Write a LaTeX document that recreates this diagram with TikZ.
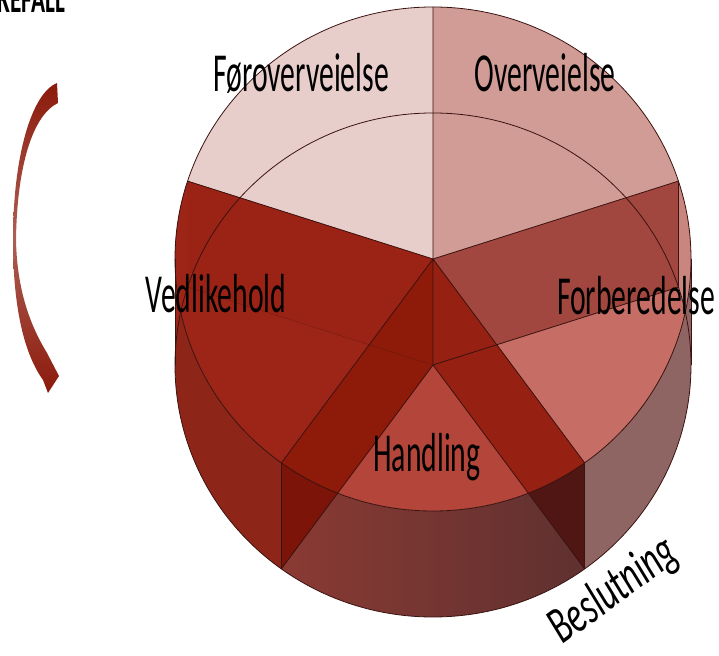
\documentclass[tikz,border=0pt]{standalone}
\usepackage{fontspec}
\usepackage{graphicx}
\setmainfont{Carlito}
\definecolor{cFor}{HTML}{E8CECB}
\definecolor{cOve}{HTML}{D19C96}
\definecolor{cFb}{HTML}{C66E65}
\definecolor{cVed}{HTML}{9D2517}
\definecolor{cHa}{HTML}{B4453A}
\definecolor{cQa}{HTML}{A2473F}
\definecolor{cQb}{HTML}{9B2315}
\definecolor{cBL}{HTML}{8E1A0A}
\definecolor{cBLo}{HTML}{7C1409}
\definecolor{cBR}{HTML}{962011}
\definecolor{cBRo}{HTML}{4F1614}
\definecolor{cWallV}{HTML}{8D2619}
\definecolor{cWallHl}{HTML}{8A3A33}
\definecolor{cWallHr}{HTML}{5F3130}
\definecolor{cWallF}{HTML}{8E6562}
\definecolor{cStrip}{HTML}{C8867F}
\definecolor{cEdge}{HTML}{3A1210}
\definecolor{cArrow}{HTML}{8B1A0B}
\begin{document}
\begin{tikzpicture}[x=1pt,y=1pt,
  rim/.style={x radius=258,y radius=252},
  edge/.style={draw=cEdge,line width=0.8pt,line join=round},
  faint/.style={draw=cEdge,line width=0.5pt,opacity=0.35},
  lbl/.style={inner sep=0pt,anchor=base,text=black},
  lblfont/.style={font=\fontsize{55}{66}\selectfont}]
\useasboundingbox (0,0) rectangle (719,655);
\coordinate (Tc) at (433,396);
\coordinate (Bc) at (433,290);
\foreach \a in {0,18,90,162,180,234,306,360} {
  \coordinate (T\a) at ({433+258*cos(\a)},{396+252*sin(\a)});
  \coordinate (B\a) at ({433+258*cos(\a)},{290+252*sin(\a)});
}
% front walls
\fill[cWallV] (T180) arc[start angle=180,end angle=234,rim] -- (B234) arc[start angle=234,end angle=180,rim] -- cycle;
\shade[left color=cWallHl,right color=cWallHr] (T234) arc[start angle=234,end angle=306,rim] -- (B306) arc[start angle=306,end angle=234,rim] -- cycle;
% top sectors
\fill[cFor] (Tc) -- (T90) arc[start angle=90,end angle=162,rim] -- cycle;
\fill[cOve] (Tc) -- (T18) arc[start angle=18,end angle=90,rim] -- cycle;
\fill[cFb] (Tc) -- (T306) arc[start angle=306,end angle=378,rim] -- cycle;
\fill[cVed] (Tc) -- (T162) arc[start angle=162,end angle=234,rim] -- cycle;
\fill[cHa] (Tc) -- (T234) arc[start angle=234,end angle=306,rim] -- cycle;
% side strips
\fill[cVed] (T162) -- (B162) arc[start angle=162,end angle=180,rim] -- (T180) arc[start angle=180,end angle=162,rim] -- cycle;
\fill[cStrip] (T18) -- (B18) arc[start angle=18,end angle=0,rim] -- (T0) arc[start angle=0,end angle=18,rim] -- cycle;
\fill[cWallF] (T306) arc[start angle=306,end angle=360,rim] -- (B360) arc[start angle=360,end angle=306,rim] -- cycle;
% radial walls
\fill[cQa] (Tc) -- (T18) -- (B18) -- (Bc) -- cycle;
\fill[cQb] (Tc) -- (T162) -- (B162) -- (Bc) -- cycle;
\begin{scope}
  \clip (Tc) -- (T234) -- (B234) -- (Bc) -- cycle;
  \fill[cBL] (Tc) ellipse[rim];
  \fill[cBLo] (T234) arc[start angle=234,end angle=306,rim] -- (B306) arc[start angle=306,end angle=234,rim] -- cycle;
\end{scope}
\begin{scope}
  \clip (Tc) -- (T306) -- (B306) -- (Bc) -- cycle;
  \fill[cBR] (Tc) ellipse[rim];
  \fill[cBRo] (T234) arc[start angle=234,end angle=306,rim] -- (B306) arc[start angle=306,end angle=234,rim] -- cycle;
\end{scope}
% edges
\draw[edge] (Tc) ellipse[rim];
\draw[edge] (Bc) ellipse[rim];
\draw[edge] (T180) -- (B180) (T0) -- (B0);
\draw[edge] (Tc) -- (T90) (Tc) -- (T162) (Tc) -- (T234) (Tc) -- (T306) (Tc) -- (T18) (Tc) -- (Bc);
\draw[edge] (Bc) -- (B18) (Bc) -- (B234) (Bc) -- (B306);
\draw[edge] (T18) -- (B18) (T234) -- (B234) (T306) -- (B306);
\draw[faint] (Bc) -- (B162);
% labels
\node[lbl,lblfont] (l1) at (301,563) {\scalebox{0.54}[1]{Føroverveielse}};
\node[lbl,lblfont] (l2) at (545,563) {\scalebox{0.54}[1]{Overveielse}};
\node[lbl,lblfont] (l3) at (216,342) {\scalebox{0.54}[1]{Vedlikehold}};
\node[lbl,lblfont] (l4) at (636,340) {\scalebox{0.54}[1]{Forberedelse}};
\node[lbl,lblfont] (l5) at (427,183) {\scalebox{0.54}[1]{Handling}};
\node[inner sep=0pt,rotate=36,font=\fontsize{52}{62}\selectfont\itshape] (l6) at (614,64) {\scalebox{0.66}[1]{Beslutning}};
\node[inner sep=0pt,anchor=base east,font=\fontsize{40}{48}\selectfont\bfseries] (title) at (65,642) {\scalebox{0.58}[1]{TILBAKEFALL}};
% curved arrow
\shade[top color=cArrow,bottom color=cArrow,middle color=cArrow!70!white]
  (57,572) .. controls (32,562) and (13,500) .. (13,415)
  .. controls (13,345) and (25,300) .. (43,275) -- (48,262) -- (59,279) -- (47,302)
  .. controls (30,330) and (17,365) .. (16,415)
  .. controls (17,490) and (33,540) .. (58,552) -- cycle;
\end{tikzpicture}
\end{document}
